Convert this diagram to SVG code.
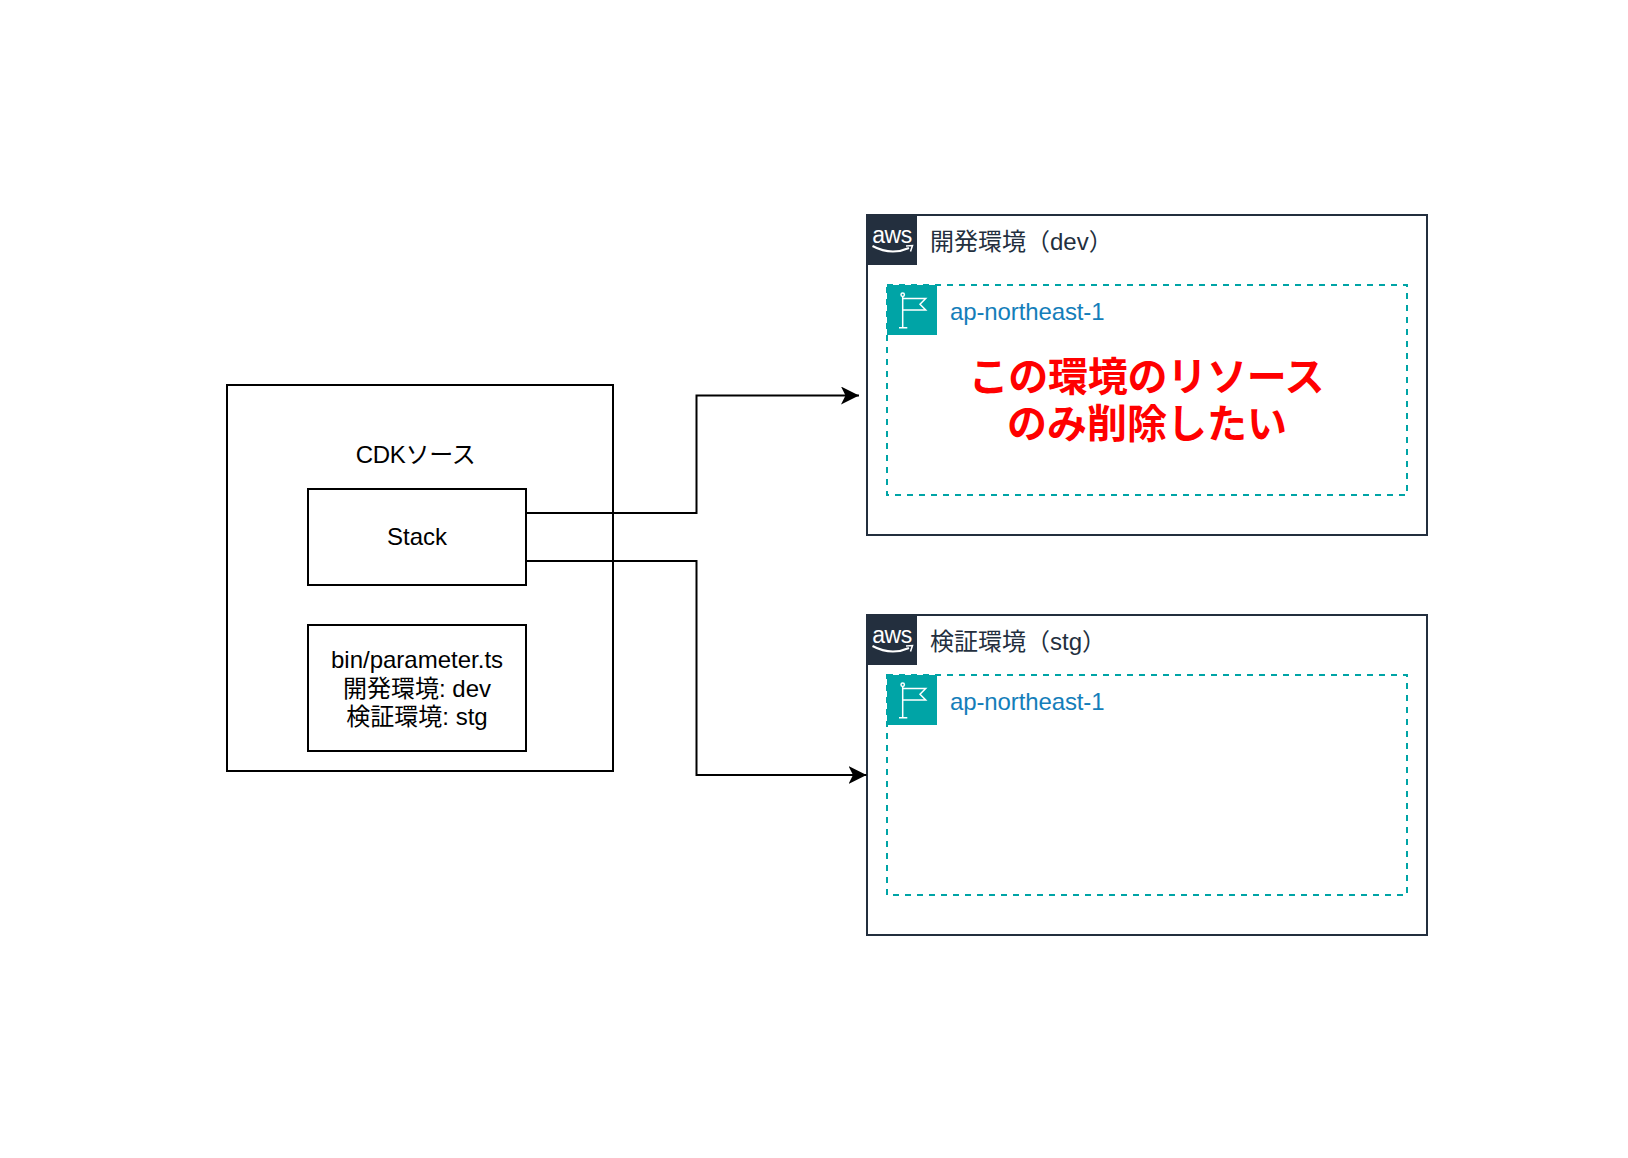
<svg xmlns="http://www.w3.org/2000/svg" width="1628" height="1158" viewBox="0 0 1628 1158">
<style>
text{font-family:"Liberation Sans","Noto Sans CJK JP",sans-serif}
.b{fill:#fff;stroke:#000;stroke-width:2}
.t{font-size:24px;fill:#000;text-anchor:middle}
.acc{fill:#fff;stroke:#232F3E;stroke-width:2}
.reg{fill:none;stroke:#00A4A6;stroke-width:2;stroke-dasharray:6 6}
.al{font-size:24px;fill:#232F3E}
.rl{font-size:24px;fill:#147EBA;letter-spacing:-.12px}
.big{font-size:40px;font-weight:bold;fill:#FF0000;text-anchor:middle}
.w{fill:none;stroke:#fff;stroke-width:1.500}
.c{fill:none;stroke:#000;stroke-width:2}
</style>
<defs>
<marker id="a" markerUnits="userSpaceOnUse" markerWidth="20" markerHeight="20" refX="18" refY="9" orient="auto"><path d="M0 0L18 9L0 18L4.500 9Z" fill="#000"/></marker>
<g id="awslogo">
<rect width="50" height="50" fill="#232F3E"/>
<text x="25" y="27.500" font-size="23" letter-spacing="-.5" fill="#fff" text-anchor="middle">aws</text>
<path d="M5.500 31Q24 41 42 33" fill="none" stroke="#fff" stroke-width="2"/>
<path d="M39 31L45.500 30.500L43.500 36.500" fill="none" stroke="#fff" stroke-width="1.500"/>
</g>
<g id="flag">
<rect width="50" height="50" fill="#00A4A6"/>
<path class="w" d="M15.700 11.500V42.700M12 42.700H20.300M15.700 13.500H38.700L33 19.300L38.700 25H15.700"/>
<circle class="w" cx="15.700" cy="9.800" r="1.700"/>
</g>
</defs>
<g id="cdk"><rect class="b" x="227" y="385" width="386" height="386"/><text class="t" x="415.500" y="463" letter-spacing="-.3">CDKソース</text></g>
<g id="dev">
<rect class="acc" x="867" y="215" width="560" height="320"/>
<use href="#awslogo" x="867" y="215"/>
<text class="al" x="930" y="250">開発環境（dev）</text>
<rect class="reg" x="887" y="285" width="520" height="210"/>
<use href="#flag" x="887" y="285"/>
<text class="rl" x="950" y="320">ap-northeast-1</text>
<text class="big" x="1146.500" y="391" letter-spacing="-.25">この環境のリソース</text>
<text class="big" x="1147" y="438">のみ削除したい</text>
</g>
<g id="stg">
<rect class="acc" x="867" y="615" width="560" height="320"/>
<use href="#awslogo" x="867" y="615"/>
<text class="al" x="930" y="650">検証環境（stg）</text>
<rect class="reg" x="887" y="675" width="520" height="220"/>
<use href="#flag" x="887" y="675"/>
<text class="rl" x="950" y="710">ap-northeast-1</text>
</g>
<g id="stack"><rect class="b" x="308" y="489" width="218" height="96"/><text class="t" x="417" y="545">Stack</text></g>
<g id="param"><rect class="b" x="308" y="625" width="218" height="126"/>
<text class="t" x="417" y="668">bin/parameter.ts</text>
<text class="t" x="417" y="697">開発環境: dev</text>
<text class="t" x="417" y="725">検証環境: stg</text></g>
<g id="connectors">
<path class="c" d="M526 513H696.500V395.500H859" marker-end="url(#a)"/>
<path class="c" d="M526 561H696.500V775H866.500" marker-end="url(#a)"/>
</g>
</svg>
